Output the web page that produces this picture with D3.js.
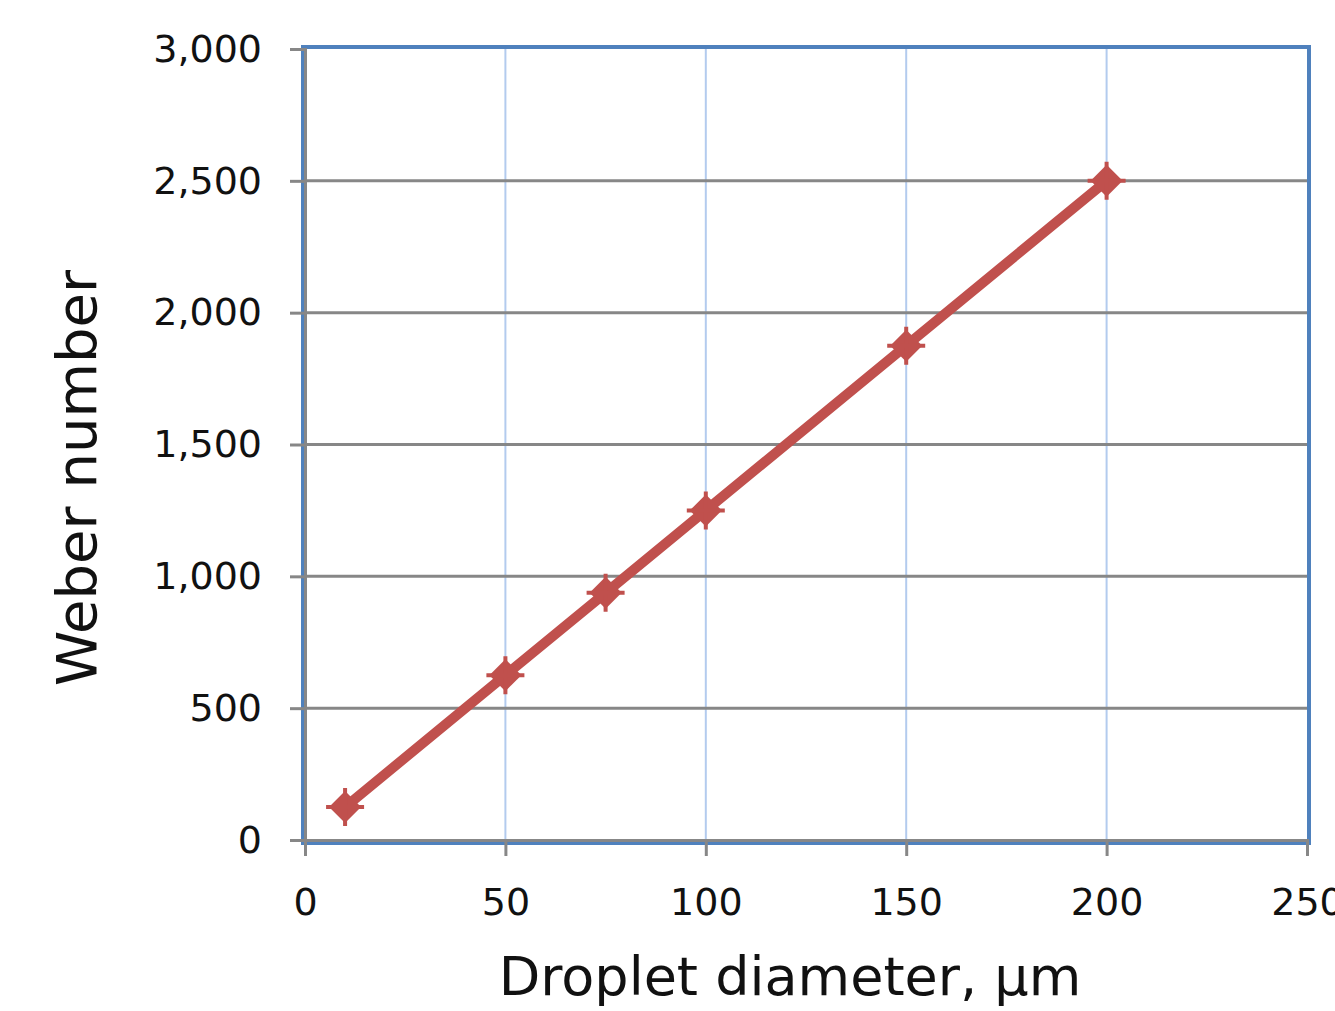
<!DOCTYPE html>
<html>
<head>
<meta charset="utf-8">
<script src="https://cdn.jsdelivr.net/npm/d3@7"></script>
<style>
  body { margin: 0; background: #fff; }
  svg text { font-family: "DejaVu Sans", sans-serif; fill: #111; }
</style>
</head>
<body>
<div class="content"></div>
<script>
const diameters = [10, 50, 75, 100, 150, 200];
const weber = [125, 625, 937.5, 1250, 1875, 2500];
const xTicks = [0, 50, 100, 150, 200, 250];
const yTicks = [0, 500, 1000, 1500, 2000, 2500, 3000];

const W = 1335, H = 1011;
const plot = { left: 305, right: 1307, top: 49, bottom: 840 };

const svg = d3.select('.content')
  .append('svg')
  .attr('width', W)
  .attr('height', H);

let xScale = d3.scaleLinear().domain([0, 250]).range([plot.left, plot.right]);
let yScale = d3.scaleLinear().domain([0, 3000]).range([plot.bottom, plot.top]);

// vertical gridlines (light blue)
svg.append('g')
  .selectAll('line')
  .data(xTicks.filter(d => d > 0 && d < 250))
  .enter().append('line')
  .attr('x1', d => xScale(d)).attr('x2', d => xScale(d))
  .attr('y1', plot.top).attr('y2', plot.bottom)
  .attr('stroke', '#b3cbee')
  .attr('stroke-width', 2);

// blue plot border
svg.append('rect')
  .attr('x', plot.left - 2)
  .attr('y', plot.top - 2)
  .attr('width', plot.right - plot.left + 4)
  .attr('height', plot.bottom - plot.top + 5)
  .attr('fill', 'none')
  .attr('stroke', '#4f81bd')
  .attr('stroke-width', 4);

// horizontal gridlines (grey)
svg.append('g')
  .selectAll('line')
  .data(yTicks.filter(d => d > 0 && d < 3000))
  .enter().append('line')
  .attr('x1', plot.left).attr('x2', plot.right)
  .attr('y1', d => yScale(d)).attr('y2', d => yScale(d))
  .attr('stroke', '#878787')
  .attr('stroke-width', 3);

// y axis
let yAxis = d3.axisLeft(yScale)
  .tickValues(yTicks)
  .tickFormat(d3.format(','))
  .tickSize(15)
  .tickPadding(28);

svg.append('g')
  .attr('transform', `translate(${plot.left}, 0)`)
  .call(yAxis)
  .call(g => g.select('.domain').attr('stroke', '#878787').attr('stroke-width', 3))
  .call(g => g.selectAll('line').attr('stroke', '#878787').attr('stroke-width', 3))
  .call(g => g.selectAll('text').attr('font-size', 38).attr('fill', '#111'));

// x axis
let xAxis = d3.axisBottom(xScale)
  .tickValues(xTicks)
  .tickSize(16)
  .tickPadding(32);

svg.append('g')
  .attr('transform', `translate(0, ${plot.bottom})`)
  .call(xAxis)
  .call(g => g.select('.domain').attr('stroke', '#878787').attr('stroke-width', 3))
  .call(g => g.selectAll('line').attr('stroke', '#878787').attr('stroke-width', 3))
  .call(g => g.selectAll('text').attr('font-size', 38).attr('fill', '#111'));

// series line
const pts = diameters.map((d, i) => [d, weber[i]]);
let line = d3.line().x(d => xScale(d[0])).y(d => yScale(d[1]));

svg.append('path')
  .datum(pts)
  .attr('d', line)
  .attr('fill', 'none')
  .attr('stroke', '#c0504d')
  .attr('stroke-width', 10)
  .attr('stroke-linejoin', 'round');

// diamond markers with small spikes
let marker = svg.append('g')
  .selectAll('g')
  .data(pts)
  .enter().append('g')
  .attr('transform', d => `translate(${xScale(d[0])},${yScale(d[1])})`);

marker.append('path')
  .attr('d', 'M0,-16 L16,0 L0,16 L-16,0 Z')
  .attr('fill', '#c0504d');
marker.append('path')
  .attr('d', 'M0,-19 L0,19 M-19,0 L19,0')
  .attr('stroke', '#c0504d')
  .attr('stroke-width', 4);

// axis titles
svg.append('text')
  .attr('x', 790)
  .attr('y', 995)
  .attr('text-anchor', 'middle')
  .attr('font-size', 54)
  .text('Droplet diameter, µm');

svg.append('text')
  .attr('transform', 'translate(96, 478) rotate(-90)')
  .attr('text-anchor', 'middle')
  .attr('font-size', 56)
  .text('Weber number');
</script>
</body>
</html>
